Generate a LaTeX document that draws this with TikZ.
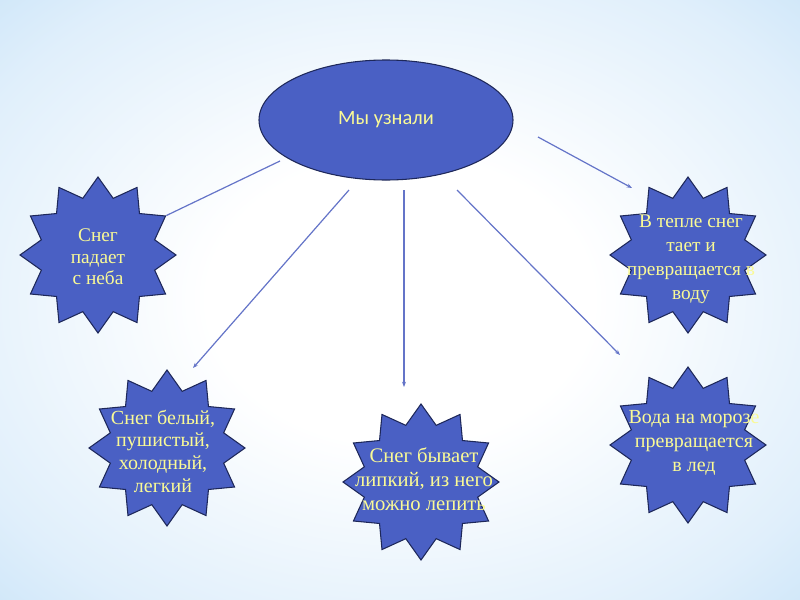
\documentclass[tikz,border=0pt]{standalone}
\usepackage{fontspec}
\setmainfont{Liberation Serif}
\newfontfamily\carlito{Carlito}
\usetikzlibrary{shapes.geometric,arrows.meta}
\definecolor{starblue}{RGB}{74,96,196}
\definecolor{edgeblue}{RGB}{30,40,90}
\definecolor{lineblue}{RGB}{100,116,200}
\definecolor{txtyellow}{RGB}{250,250,150}
\definecolor{bgmid}{RGB}{224,239,251}
\definecolor{bgedge}{RGB}{172,213,244}
\definecolor{bgcorner}{RGB}{122,185,236}
\pgfdeclareradialshading{bgshade}{\pgfpoint{0bp}{0bp}}{color(0bp)=(white); color(12bp)=(white); color(30bp)=(bgmid); color(50bp)=(bgedge); color(71bp)=(bgcorner)}
\begin{document}
\begin{tikzpicture}[x=0.75pt,y=-0.75pt,
  starbox/.style={star, star points=12, star point ratio=1.33, minimum size=117pt, inner sep=0pt, fill=starblue, draw=edgeblue, line width=0.8pt},
  startext/.style={align=center, text=txtyellow, inner sep=0pt, font=\fontsize{15}{18}\selectfont},
  link/.style={draw=lineblue, line width=0.9pt},
  tipped/.style={-{Stealth[length=4pt,width=3pt]}}]
\shade[shading=bgshade] (0,0) rectangle (800,600);
\useasboundingbox (0,0) rectangle (800,600);

% free ends of the connectors
\coordinate (a1) at (280,161);
\coordinate (a2) at (349,190);
\coordinate (a3) at (404,190);
\coordinate (a4) at (457,190);
\coordinate (a5) at (538,137);
\coordinate (b2) at (193,368);
\coordinate (b3) at (404,387);
\coordinate (b4) at (620,355);
\coordinate (b5) at (632,188);

\node[starbox] (s1) at (98,255) {};
\node[starbox] (s2) at (688,255) {};
\node[starbox] (s3) at (167,448) {};
\node[starbox] (s4) at (421,482) {};
\node[starbox] (s5) at (688,445) {};

\draw[link] (a1) -- (s1.30);
\draw[link,tipped] (a2) -- (b2);
\draw[link,tipped] (a3) -- (b3);
\draw[link,tipped] (a4) -- (b4);
\draw[link,tipped] (a5) -- (b5);

\node[ellipse, minimum width=190.5pt, minimum height=90pt, inner sep=0pt, fill=starblue, draw=edgeblue, line width=0.8pt] (ell) at (386,120) {\carlito\fontsize{15.3}{17}\selectfont\color{txtyellow}Мы узнали};

\node[startext, font=\fontsize{14.5}{16}\selectfont] (t1) at (98,257) {Снег\\падает\\с неба};
\node[startext, font=\fontsize{14.5}{18}\selectfont] (t2) at (691,259) {В тепле снег\\тает и\\превращается в\\воду};
\node[startext, font=\fontsize{15}{17}\selectfont] (t3) at (163,451) {Снег белый,\\пушистый,\\холодный,\\легкий};
\node[startext, font=\fontsize{15.5}{18}\selectfont] (t4) at (424,479) {Снег бывает\\липкий, из него\\можно лепить};
\node[startext] (t5) at (694,443) {Вода на морозе\\превращается\\в лед};
\end{tikzpicture}
\end{document}
